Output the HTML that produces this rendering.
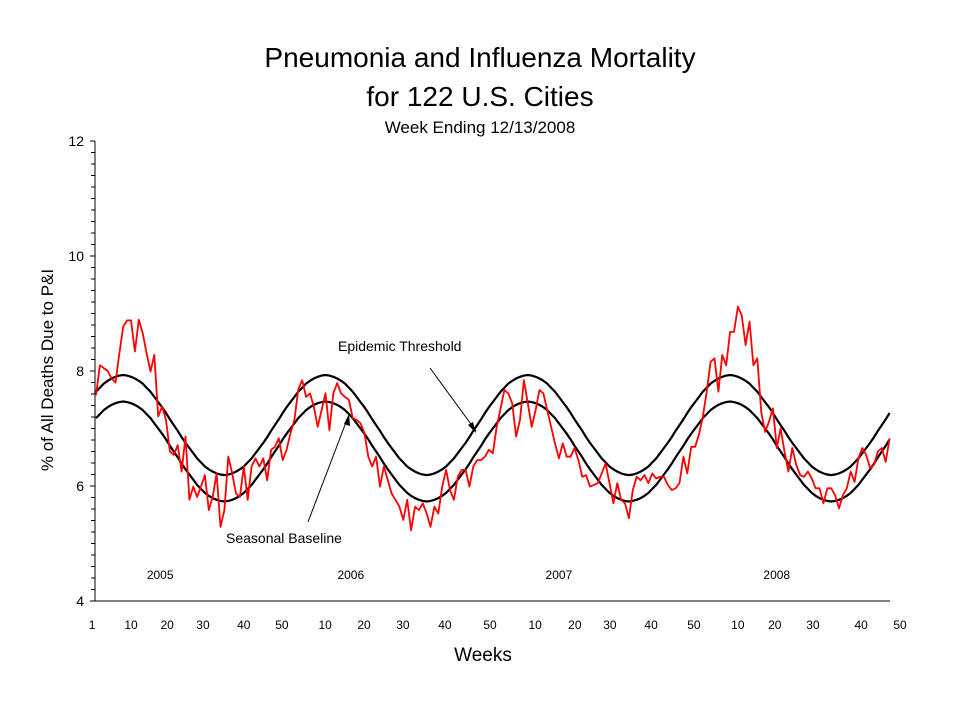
<!DOCTYPE html>
<html><head><meta charset="utf-8">
<style>
body{margin:0;background:#fff;}
svg{display:block;font-family:"Liberation Sans",Arial,sans-serif;}
</style></head>
<body>
<svg id="chart" width="960" height="720" viewBox="0 0 960 720" xmlns="http://www.w3.org/2000/svg">
<rect width="960" height="720" fill="#fff"/>
<text x="480" y="67" text-anchor="middle" font-size="28">Pneumonia and Influenza Mortality</text>
<text x="480" y="106" text-anchor="middle" font-size="28">for 122 U.S. Cities</text>
<text x="480" y="133" text-anchor="middle" font-size="17">Week Ending 12/13/2008</text>
<text transform="translate(53,370) rotate(-90)" text-anchor="middle" font-size="17">% of All Deaths Due to P&amp;I</text>
<text x="483" y="661" text-anchor="middle" font-size="19">Weeks</text>
<g id="grid"></g>
<g id="series"></g>
<text x="338" y="351" font-size="14">Epidemic Threshold</text>
<line x1="430" y1="368" x2="476" y2="431" stroke="#000" stroke-width="1"/>
<polygon points="476,433 468,425 473,422" fill="#000"/>
<text x="226" y="543" font-size="14">Seasonal Baseline</text>
<line x1="308" y1="522" x2="348" y2="417" stroke="#000" stroke-width="1"/>
<polygon points="349,414 350,426 344,424" fill="#000"/>
</svg>
<script>
const piValues = [7.58,8.1,8.05,8.0,7.87,7.8,8.3,8.77,8.88,8.88,8.34,8.89,8.66,8.31,7.99,8.28,7.21,7.38,7.15,6.6,6.54,6.71,6.25,6.86,5.76,5.99,5.81,5.99,6.19,5.58,5.81,6.22,5.29,5.58,6.51,6.22,5.87,5.81,6.34,5.76,6.34,6.48,6.34,6.48,6.1,6.63,6.68,6.83,6.45,6.63,6.92,7.15,7.68,7.84,7.55,7.61,7.38,7.03,7.32,7.61,6.97,7.61,7.79,7.61,7.55,7.5,7.18,7.15,7.09,6.92,6.51,6.34,6.51,5.99,6.34,6.1,5.87,5.76,5.64,5.41,5.76,5.23,5.64,5.58,5.7,5.52,5.29,5.64,5.52,5.99,6.28,5.93,5.76,6.16,6.28,6.28,5.99,6.34,6.45,6.45,6.51,6.63,6.57,7.03,7.35,7.67,7.61,7.44,6.86,7.15,7.84,7.44,7.03,7.32,7.67,7.61,7.32,7.03,6.74,6.48,6.74,6.51,6.51,6.66,6.45,6.16,6.19,5.99,6.02,6.05,6.22,6.39,6.05,5.7,6.05,5.76,5.7,5.44,5.93,6.16,6.1,6.19,6.05,6.22,6.13,6.16,6.16,6.02,5.93,5.96,6.05,6.51,6.22,6.68,6.68,6.9,7.2,7.64,8.16,8.22,7.64,8.28,8.1,8.68,8.68,9.12,8.97,8.45,8.86,8.1,8.22,7.29,6.94,7.12,7.35,6.66,7.0,6.6,6.25,6.66,6.37,6.19,6.16,6.25,6.13,5.96,5.96,5.7,5.96,5.96,5.84,5.61,5.84,5.96,6.25,6.07,6.48,6.66,6.54,6.31,6.37,6.6,6.66,6.42,6.83];
const seasonalBaseline = [7.18,7.25,7.32,7.37,7.41,7.44,7.46,7.47,7.46,7.44,7.41,7.37,7.32,7.25,7.18,7.09,7.0,6.91,6.81,6.7,6.6,6.5,6.39,6.29,6.2,6.11,6.02,5.95,5.88,5.83,5.79,5.76,5.74,5.73,5.74,5.76,5.79,5.83,5.88,5.95,6.02,6.11,6.2,6.29,6.39,6.5,6.6,6.7,6.81,6.91,7.0,7.09];
const thresholdOffset = 0.46;
const tickLabels = ["1","10","20","30","40","50","10","20","30","40","50","10","20","30","40","50","10","20","30","40","50"];
const tickWeeks = [-1,9,18.3,27.5,38,47.8,58.9,68.9,78.9,89.7,101.3,112.9,123.1,132.1,142.7,153.7,165,174.5,184.3,196.7,206.7];
const yearLabels = ["2005","2006","2007","2008"];
const yearWeeks = [16.5,65.5,119,175];
const yTicks = [4,6,8,10,12];

const NS = "http://www.w3.org/2000/svg";
const X0 = 96, XW = 3.89, Y0 = 601, YS = 57.5;
const xs = i => X0 + i*XW;
const ys = v => Y0 - (v-4)*YS;
function mk(tag, attrs, parent){const e=document.createElementNS(NS,tag);for(const k in attrs)e.setAttribute(k,attrs[k]);parent.appendChild(e);return e;}
const grid = document.getElementById('grid'), ser = document.getElementById('series');

let el = mk('line',{x1:95,y1:141,x2:95,y2:601,stroke:'#000','stroke-width':1},grid);


el = mk('line',{x1:95,y1:601,x2:890,y2:601,stroke:'#000','stroke-width':1},grid);


for(let k=0;k<=40;k++){
  const v=4+k*0.2, y=ys(v), major=(k%10===0);
  el = mk('line',{x1:major?90:91,y1:y,x2:95,y2:y,stroke:'#000','stroke-width':1},grid);
  
  
}
yTicks.forEach(v=>{
  const t=mk('text',{x:84,y:ys(v)+5,'text-anchor':'end','font-size':14},grid);t.textContent=v;
  
  
});
tickLabels.forEach((s,i)=>{
  const t=mk('text',{x:xs(tickWeeks[i]),y:629,'text-anchor':'middle','font-size':12},grid);t.textContent=s;
  
  
});
yearLabels.forEach((s,i)=>{
  const t=mk('text',{x:xs(yearWeeks[i]),y:579,'text-anchor':'middle','font-size':12},grid);t.textContent=s;
  
  
});
const base = piValues.map((_,i)=>seasonalBaseline[i%52]);
function path(vals){return vals.map((v,i)=>(i?'L':'M')+xs(i).toFixed(1)+' '+ys(v).toFixed(1)).join(' ');}
el = mk('path',{d:path(base.map(v=>v+thresholdOffset)),fill:'none',stroke:'#000','stroke-width':2.2},ser);


el = mk('path',{d:path(base),fill:'none',stroke:'#000','stroke-width':2.2},ser);


el = mk('path',{d:path(piValues),fill:'none',stroke:'#ff0000','stroke-width':1.8,'stroke-linejoin':'round'},ser);


</script>
</body></html>
